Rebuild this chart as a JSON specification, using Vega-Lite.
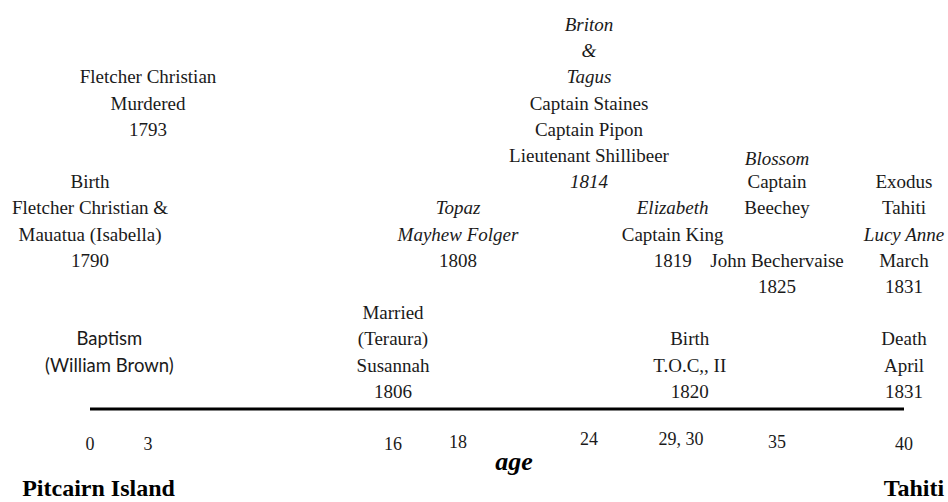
{
  "$schema": "https://vega.github.io/schema/vega-lite/v6.json",
  "autosize": "none",
  "padding": 0,
  "width": 948,
  "height": 502,
  "background": "white",
  "config": {"view": {"stroke": null}},
  "datasets": {
    "lines": [
      {"event": "Birth 1790", "age": 0, "line": 6, "text": "Birth", "emph": false},
      {"event": "Birth 1790", "age": 0, "line": 7, "text": "Fletcher Christian &", "emph": false},
      {"event": "Birth 1790", "age": 0, "line": 8, "text": "Mauatua (Isabella)", "emph": false},
      {"event": "Birth 1790", "age": 0, "line": 9, "text": "1790", "emph": false},
      {"event": "Murdered 1793", "age": 3, "line": 2, "text": "Fletcher Christian", "emph": false},
      {"event": "Murdered 1793", "age": 3, "line": 3, "text": "Murdered", "emph": false},
      {"event": "Murdered 1793", "age": 3, "line": 4, "text": "1793", "emph": false},
      {"event": "Baptism", "age": 1, "line": 12, "text": "Baptism", "emph": false},
      {"event": "Baptism", "age": 1, "line": 13, "text": "(William Brown)", "emph": false},
      {"event": "Married 1806", "age": 16, "line": 11, "text": "Married", "emph": false},
      {"event": "Married 1806", "age": 16, "line": 12, "text": "(Teraura)", "emph": false},
      {"event": "Married 1806", "age": 16, "line": 13, "text": "Susannah", "emph": false},
      {"event": "Married 1806", "age": 16, "line": 14, "text": "1806", "emph": false},
      {"event": "Topaz 1808", "age": 18, "line": 7, "text": "Topaz", "emph": true},
      {"event": "Topaz 1808", "age": 18, "line": 8, "text": "Mayhew Folger", "emph": true},
      {"event": "Topaz 1808", "age": 18, "line": 9, "text": "1808", "emph": false},
      {"event": "Briton 1814", "age": 24, "line": 0, "text": "Briton", "emph": true},
      {"event": "Briton 1814", "age": 24, "line": 1, "text": "&", "emph": true},
      {"event": "Briton 1814", "age": 24, "line": 2, "text": "Tagus", "emph": true},
      {"event": "Briton 1814", "age": 24, "line": 3, "text": "Captain Staines", "emph": false},
      {"event": "Briton 1814", "age": 24, "line": 4, "text": "Captain Pipon", "emph": false},
      {"event": "Briton 1814", "age": 24, "line": 5, "text": "Lieutenant  Shillibeer", "emph": false},
      {"event": "Briton 1814", "age": 24, "line": 6, "text": "1814", "emph": true},
      {"event": "Elizabeth 1819", "age": 29, "line": 7, "text": "Elizabeth", "emph": true},
      {"event": "Elizabeth 1819", "age": 29, "line": 8, "text": "Captain King", "emph": false},
      {"event": "Elizabeth 1819", "age": 29, "line": 9, "text": "1819", "emph": false},
      {"event": "Birth 1820", "age": 30, "line": 12, "text": "Birth", "emph": false},
      {"event": "Birth 1820", "age": 30, "line": 13, "text": "T.O.C,, II", "emph": false},
      {"event": "Birth 1820", "age": 30, "line": 14, "text": "1820", "emph": false},
      {"event": "Blossom 1825", "age": 35, "line": 5.1, "text": "Blossom", "emph": true},
      {"event": "Blossom 1825", "age": 35, "line": 6, "text": "Captain", "emph": false},
      {"event": "Blossom 1825", "age": 35, "line": 7, "text": "Beechey", "emph": false},
      {"event": "Blossom 1825", "age": 35, "line": 9, "text": "John Bechervaise", "emph": false},
      {"event": "Blossom 1825", "age": 35, "line": 10, "text": "1825", "emph": false},
      {"event": "Exodus 1831", "age": 40, "line": 6, "text": "Exodus", "emph": false},
      {"event": "Exodus 1831", "age": 40, "line": 7, "text": "Tahiti", "emph": false},
      {"event": "Exodus 1831", "age": 40, "line": 8, "text": "Lucy Anne", "emph": true},
      {"event": "Exodus 1831", "age": 40, "line": 9, "text": "March", "emph": false},
      {"event": "Exodus 1831", "age": 40, "line": 10, "text": "1831", "emph": false},
      {"event": "Death 1831", "age": 40, "line": 12, "text": "Death", "emph": false},
      {"event": "Death 1831", "age": 40, "line": 13, "text": "April", "emph": false},
      {"event": "Death 1831", "age": 40, "line": 14, "text": "1831", "emph": false}
    ],
    "ticks": [
      {"age": 0, "line": 16.03, "text": "0"},
      {"age": 3, "line": 16.03, "text": "3"},
      {"age": 16, "line": 16.03, "text": "16"},
      {"age": 18, "line": 15.95, "text": "18"},
      {"age": 24, "line": 15.84, "text": "24"},
      {"age": 29.5, "line": 15.84, "text": "29, 30"},
      {"age": 35, "line": 15.95, "text": "35"},
      {"age": 40, "line": 16.03, "text": "40"}
    ],
    "timeline": [{"age": 0, "age2": 40, "line": 14.66}],
    "title": [{"age": 20.57, "line": 16.98, "text": "age"}],
    "places": [
      {"age": 0.44, "line": 17.98, "text": "Pitcairn Island"},
      {"age": 40.39, "line": 17.98, "text": "Tahiti"}
    ]
  },
  "encoding": {
    "x": {"field": "age", "type": "quantitative", "axis": null,
      "scale": {"domain": [0, 3, 16, 18, 24, 29.5, 35, 40], "range": [90, 148, 393, 458, 589, 681, 777, 904], "nice": false, "zero": false}},
    "y": {"field": "line", "type": "quantitative", "axis": null,
      "scale": {"domain": [-0.954, 18.206], "reverse": true, "nice": false, "zero": false}}
  },
  "layer": [
    {
      "data": {"name": "timeline"},
      "mark": {"type": "rule", "strokeWidth": 3, "color": "#000000"},
      "encoding": {"x2": {"field": "age2"}}
    },
    {
      "data": {"name": "lines"},
      "transform": [{"filter": "!datum.emph && datum.event != 'Baptism'"}],
      "mark": {"type": "text", "font": "Liberation Serif", "fontSize": 19, "align": "center", "baseline": "middle", "color": "#1a1a1a"},
      "encoding": {"text": {"field": "text"}}
    },
    {
      "data": {"name": "lines"},
      "transform": [{"filter": "datum.emph"}],
      "mark": {"type": "text", "font": "Liberation Serif", "fontSize": 19, "fontStyle": "italic", "align": "center", "baseline": "middle", "color": "#1a1a1a"},
      "encoding": {"text": {"field": "text"}}
    },
    {
      "data": {"name": "lines"},
      "transform": [{"filter": "datum.event == 'Baptism'"}],
      "mark": {"type": "text", "font": "Lato", "fontSize": 18.5, "align": "center", "baseline": "middle", "color": "#1a1a1a"},
      "encoding": {"text": {"field": "text"}}
    },
    {
      "data": {"name": "ticks"},
      "mark": {"type": "text", "font": "Liberation Serif", "fontSize": 18, "align": "center", "baseline": "middle", "color": "#1a1a1a"},
      "encoding": {"text": {"field": "text"}}
    },
    {
      "data": {"name": "title"},
      "mark": {"type": "text", "font": "Liberation Serif", "fontSize": 26, "fontStyle": "italic", "fontWeight": "bold", "align": "center", "baseline": "alphabetic", "color": "#000000"},
      "encoding": {"text": {"field": "text"}}
    },
    {
      "data": {"name": "places"},
      "mark": {"type": "text", "font": "Liberation Serif", "fontSize": 24, "fontWeight": "bold", "align": "center", "baseline": "alphabetic", "color": "#000000"},
      "encoding": {"text": {"field": "text"}}
    }
  ]
}
